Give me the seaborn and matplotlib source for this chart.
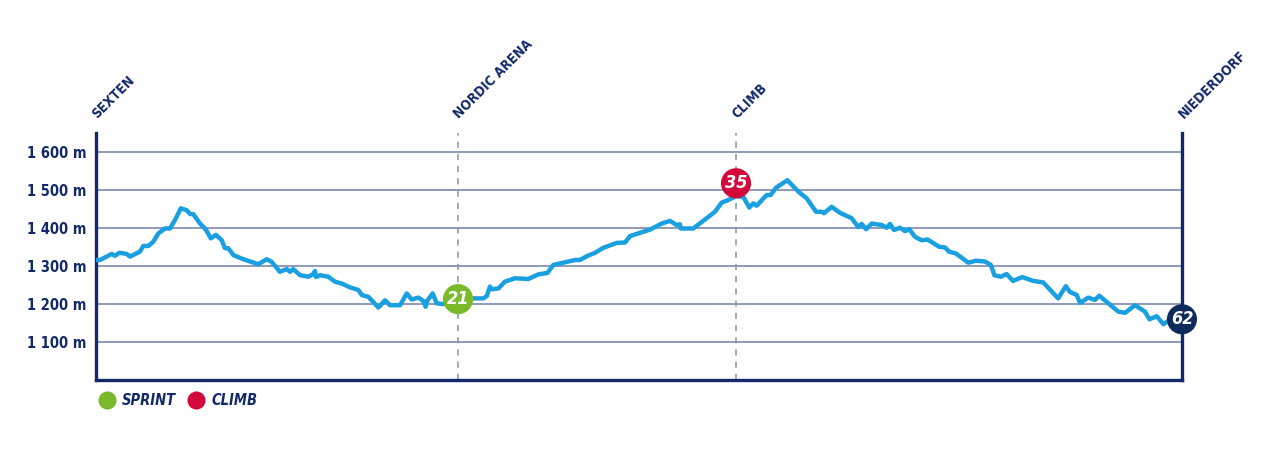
"""Stage elevation profile: Sexten - Niederdorf"""

import numpy as np
import pandas as pd
import seaborn as sns
import matplotlib.pyplot as plt
from matplotlib.lines import Line2D
from matplotlib import font_manager

# profile (km, metres)
distance_km = [0.0, 0.23, 0.90, 1.08, 1.33, 1.75, 1.94, 2.51, 2.70, 2.99, 3.27, 3.56, 3.94, 4.22,
               4.51, 4.84, 5.18, 5.37, 5.55, 5.94, 6.22, 6.35, 6.55, 6.85, 7.18, 7.36, 7.55, 7.84,
               8.41, 9.27, 9.75, 10.03, 10.50, 10.89, 11.08, 11.26, 11.65, 12.12, 12.41, 12.50,
               12.56, 12.79, 13.26, 13.64, 14.03, 14.50, 14.98, 15.17, 15.55, 16.12, 16.50, 16.78,
               17.36, 17.74, 18.02, 18.40, 18.69, 18.82, 18.91, 19.22, 19.45, 19.83, 20.55, 21.35,
               22.11, 22.31, 22.49, 22.59, 22.97, 23.35, 23.92, 24.68, 25.25, 25.77, 26.11, 26.49,
               27.35, 27.63, 28.02, 28.49, 28.96, 29.73, 30.20, 30.49, 31.63, 32.30, 32.77, 33.15,
               33.34, 33.38, 34.10, 35.34, 35.72, 36.10, 36.54, 36.96, 37.30, 37.53, 37.72, 38.29,
               38.52, 38.82, 39.47, 40.10, 40.58, 41.11, 41.43, 41.56, 42.00, 42.48, 43.14, 43.52,
               43.71, 43.96, 44.29, 44.86, 45.14, 45.33, 45.56, 45.90, 46.19, 46.43, 46.76, 47.14,
               47.47, 48.13, 48.47, 48.70, 49.10, 49.80, 50.24, 50.75, 51.09, 51.29, 51.66, 51.99,
               52.35, 52.89, 53.51, 54.08, 54.93, 55.37, 55.60, 55.99, 56.18, 56.65, 57.03, 57.28,
               57.85, 58.37, 58.75, 59.32, 59.89, 60.14, 60.56, 60.94, 61.23, 61.67, 62.0]
elevation_m = [1316, 1316, 1332, 1327, 1335, 1332, 1325, 1338, 1353, 1353, 1364, 1386, 1399, 1399,
               1421, 1452, 1447, 1437, 1437, 1412, 1399, 1390, 1373, 1382, 1368, 1347, 1347, 1329,
               1318, 1305, 1318, 1311, 1285, 1292, 1285, 1292, 1276, 1272, 1279, 1287,
               1271, 1276, 1272, 1259, 1254, 1244, 1237, 1224, 1219, 1191, 1210, 1197,
               1197, 1228, 1212, 1217, 1208, 1193, 1209, 1228, 1202, 1200, 1211, 1215,
               1215, 1221, 1246, 1239, 1241, 1259, 1268, 1266, 1278, 1282, 1303, 1307,
               1316, 1316, 1326, 1335, 1348, 1361, 1362, 1379, 1396, 1412, 1419, 1408,
               1410, 1399, 1399, 1443, 1467, 1474, 1484, 1482, 1454, 1465, 1459, 1487,
               1487, 1506, 1526, 1496, 1478, 1443, 1443, 1439, 1456, 1440, 1426, 1403,
               1411, 1397, 1412, 1408, 1401, 1411, 1395, 1401, 1392, 1397, 1377, 1368,
               1370, 1351, 1349, 1338, 1333, 1309, 1314, 1312, 1303, 1276, 1272, 1279,
               1261, 1271, 1261, 1257, 1215, 1247, 1232, 1224, 1203, 1217, 1211, 1222,
               1200, 1180, 1177, 1197, 1180, 1160, 1168, 1147, 1156, 1158, 1160]

# places along the route
place_km = [0.0, 20.67, 36.54, 62.0]
place_names = ["SEXTEN", "NORDIC ARENA", "CLIMB", "NIEDERDORF"]

# numbered markers: label, km, elevation, colour
marker_labels = ["21", "35", "62"]
marker_km = [20.67, 36.54, 62.0]
marker_elev = [1213, 1518, 1160]
marker_colors = ["#7ab929", "#d20a3c", "#0f2a5c"]

legend_labels = ["SPRINT", "CLIMB"]

ytick_values = [1100, 1200, 1300, 1400, 1500, 1600]
ytick_labels = ["1 100 m", "1 200 m", "1 300 m", "1 400 m", "1 500 m", "1 600 m"]

NAVY = "#13296a"
GRID = "#7b88ad"
LINE = "#1a9fe0"


def find_font(names):
    files = font_manager.findSystemFonts()
    for n in names:
        for f in files:
            if f.split("/")[-1] == n:
                return f
    return None


bold_file = find_font(["DejaVuSansCondensed-Bold.ttf", "LiberationSansNarrow-Bold.ttf",
                       "RobotoCondensed-Bold.ttf"])
ital_file = find_font(["DejaVuSansCondensed-BoldOblique.ttf", "LiberationSansNarrow-BoldItalic.ttf",
                       "RobotoCondensed-BoldItalic.ttf"])


def fp(size, italic=False):
    f = ital_file if italic else bold_file
    if f:
        return font_manager.FontProperties(fname=f, size=size)
    return font_manager.FontProperties(family="DejaVu Sans", weight="bold",
                                       style="italic" if italic else "normal", size=size * 0.8)


sns.set_theme(style="white")
plt.rcParams['font.family'] = ['DejaVu Sans']

profile = pd.DataFrame({"km": distance_km, "elev": elevation_m})

fig = plt.figure(figsize=(12.8, 4.59), dpi=100)
ax = fig.add_axes([0.075, 0.172, 0.8484, 0.538])

for y in ytick_values:
    ax.axhline(y, color=GRID, lw=1.2, zorder=1)

for km in place_km[1:3]:
    ax.axvline(km, color="#8592b3", lw=1.1, ls=(0, (4, 4)), zorder=1)

sns.lineplot(data=profile, x="km", y="elev", ax=ax, color=LINE, lw=3.2, zorder=3)

ax.scatter(marker_km, marker_elev, s=470, c=marker_colors, zorder=5, clip_on=False, linewidths=0)
for lab, km, el in zip(marker_labels, marker_km, marker_elev):
    ax.text(km, el, lab, color="white", fontproperties=fp(13, italic=True), ha="center",
            va="center", zorder=6)

ax.set_xlim(0, 62)
ax.set_ylim(1000, 1650)
ax.set_xticks([])
ax.set_yticks(ytick_values)
ax.set_yticklabels(ytick_labels)
ax.tick_params(axis="y", length=0, pad=7, labelcolor=NAVY)
for lab in ax.get_yticklabels():
    lab.set_fontproperties(fp(10.5))
ax.set_xlabel("")
ax.set_ylabel("")

for side in ["left", "right", "bottom"]:
    ax.spines[side].set_color(NAVY)
    ax.spines[side].set_linewidth(2.4)
ax.spines["top"].set_visible(False)

for km, name in zip(place_km, place_names):
    ax.annotate(name, xy=(km, 1650), xytext=(-1, 12), textcoords="offset points",
                rotation=45, rotation_mode="anchor", ha="left", va="center",
                fontproperties=fp(9.8), color=NAVY, annotation_clip=False)

handles = [Line2D([], [], marker="o", ls="", markersize=13, color=c, markeredgewidth=0)
           for c in marker_colors[:2]]
leg = ax.legend(handles, legend_labels, loc="upper left", bbox_to_anchor=(-0.009, -0.03),
                ncol=2, frameon=False, handletextpad=0.05, columnspacing=0.4, borderaxespad=0,
                prop=fp(10.5, italic=True), labelcolor=NAVY)

fig.savefig("out.png", dpi=100)
